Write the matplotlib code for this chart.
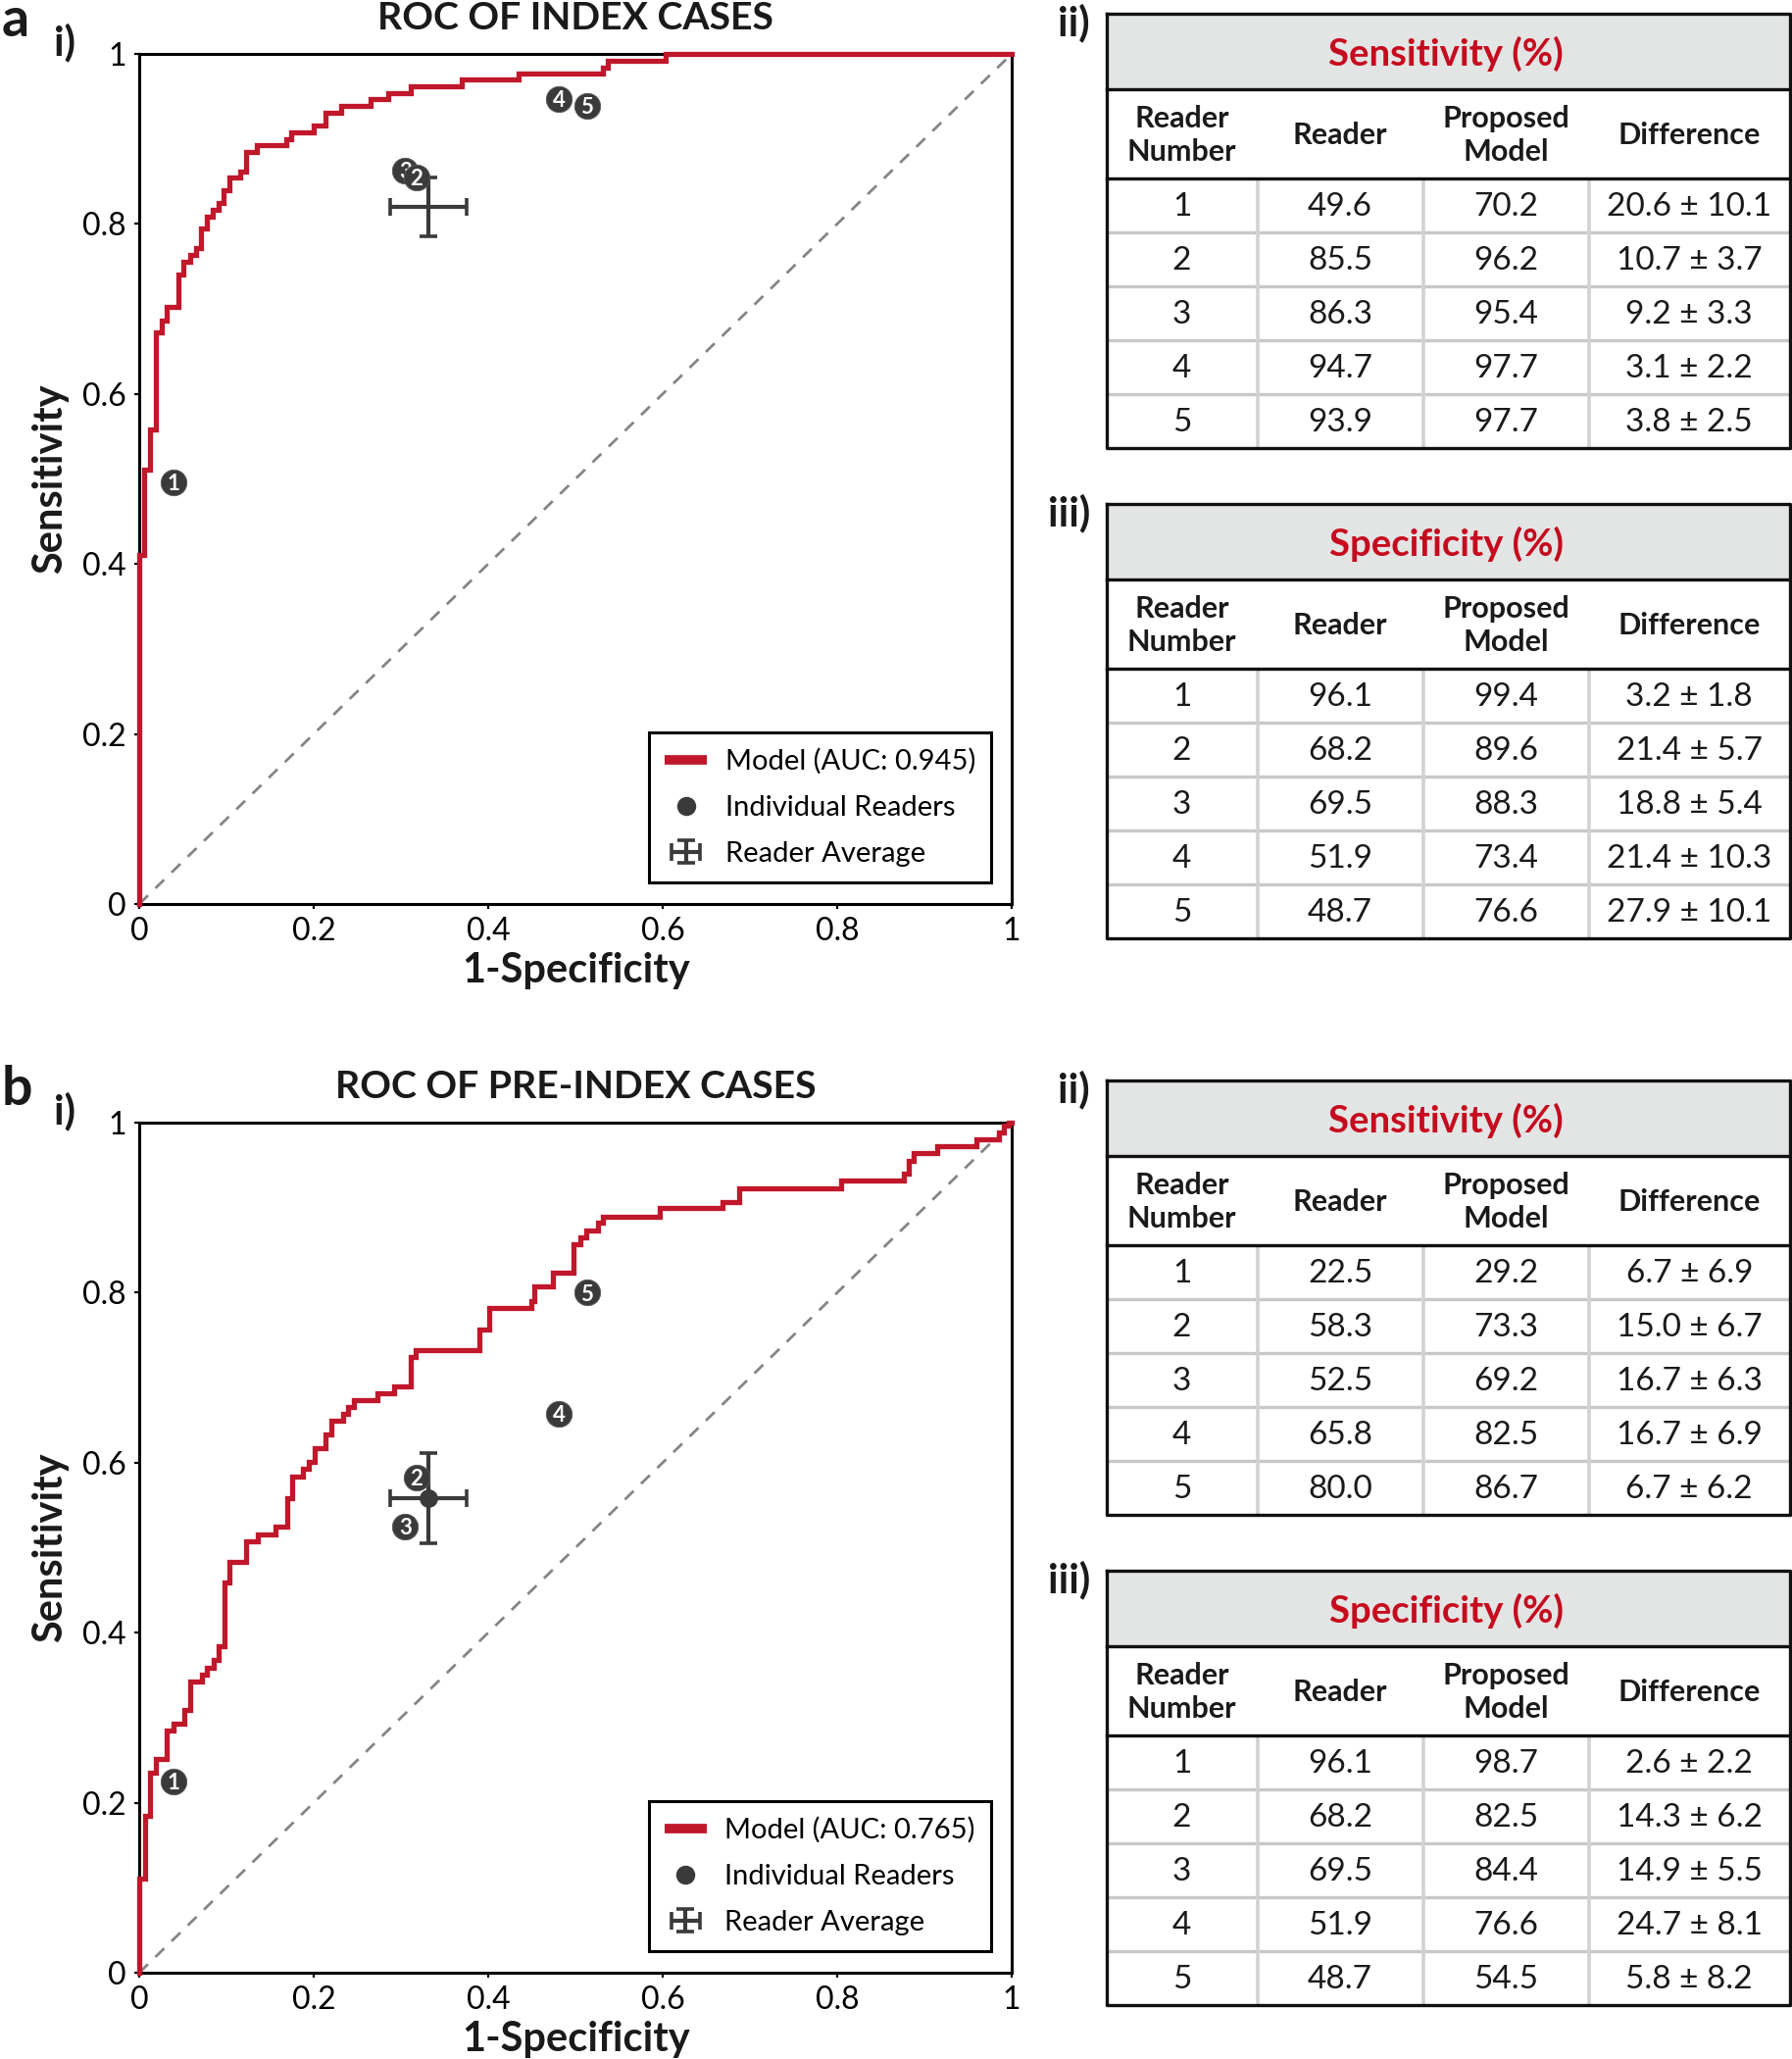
import matplotlib
matplotlib.use('Agg')
import matplotlib.pyplot as plt
from matplotlib.lines import Line2D
from matplotlib.patches import Rectangle
from matplotlib.container import ErrorbarContainer
from matplotlib.legend_handler import HandlerErrorbar

plt.rcParams['font.family'] = ['Lato', 'DejaVu Sans']

# ---------------- data ----------------
fpr_a = [0, 0, 0.006, 0.012, 0.0195, 0.0255, 0.032, 0.045, 0.051, 0.058, 0.065, 0.071,
         0.077, 0.084, 0.091, 0.097, 0.103, 0.116, 0.123, 0.135, 0.169, 0.174, 0.200,
         0.213, 0.232, 0.265, 0.285, 0.311, 0.370, 0.435, 0.532, 0.537, 0.603, 1.0]
tpr_a = [0, 0.411, 0.511, 0.558, 0.672, 0.686, 0.702, 0.741, 0.755, 0.764, 0.772, 0.795,
         0.809, 0.817, 0.825, 0.840, 0.855, 0.862, 0.885, 0.893, 0.900, 0.908, 0.916,
         0.931, 0.939, 0.947, 0.954, 0.962, 0.970, 0.977, 0.984, 0.992, 1.0, 1.0]
auc_a = 0.945

fpr_b = [0, 0, 0.007, 0.0127, 0.0195, 0.032, 0.039, 0.052, 0.0585, 0.072,
         0.078, 0.085, 0.0915, 0.098, 0.1035, 0.123, 0.1365, 0.156, 0.1695, 0.175,
         0.188, 0.1946, 0.201, 0.214, 0.220, 0.234, 0.2396, 0.2463, 0.2726, 0.292,
         0.311, 0.317, 0.3895, 0.401, 0.449, 0.4533, 0.474, 0.498, 0.506, 0.5126,
         0.526, 0.532, 0.597, 0.668, 0.6876, 0.804, 0.876, 0.882, 0.888, 0.9145,
         0.9595, 0.9857, 0.991, 0.997, 1.0]
tpr_b = [0, 0.111, 0.185, 0.235, 0.251, 0.285, 0.293, 0.309, 0.343, 0.351,
         0.359, 0.368, 0.384, 0.459, 0.4835, 0.508, 0.516, 0.5245, 0.558, 0.584,
         0.5925, 0.6006, 0.617, 0.633, 0.649, 0.658, 0.6655, 0.674, 0.682, 0.690,
         0.724, 0.732, 0.757, 0.782, 0.790, 0.8076, 0.824, 0.857, 0.865, 0.873,
         0.882, 0.889, 0.8998, 0.9067, 0.923, 0.9317, 0.940, 0.9554, 0.964, 0.9727,
         0.9807, 0.989, 0.996, 1.0, 1.0]
auc_b = 0.765

reader_ids = [1, 2, 3, 4, 5]

sens_reader_a = [49.6, 85.5, 86.3, 94.7, 93.9]
sens_model_a = [70.2, 96.2, 95.4, 97.7, 97.7]
sens_diff_a = ["20.6 ± 10.1", "10.7 ± 3.7", "9.2 ± 3.3", "3.1 ± 2.2", "3.8 ± 2.5"]
spec_reader_a = [96.1, 68.2, 69.5, 51.9, 48.7]
spec_model_a = [99.4, 89.6, 88.3, 73.4, 76.6]
spec_diff_a = ["3.2 ± 1.8", "21.4 ± 5.7", "18.8 ± 5.4", "21.4 ± 10.3", "27.9 ± 10.1"]

sens_reader_b = [22.5, 58.3, 52.5, 65.8, 80.0]
sens_model_b = [29.2, 73.3, 69.2, 82.5, 86.7]
sens_diff_b = ["6.7 ± 6.9", "15.0 ± 6.7", "16.7 ± 6.3", "16.7 ± 6.9", "6.7 ± 6.2"]
spec_reader_b = [96.1, 68.2, 69.5, 51.9, 48.7]
spec_model_b = [98.7, 82.5, 84.4, 76.6, 54.5]
spec_diff_b = ["2.6 ± 2.2", "14.3 ± 6.2", "14.9 ± 5.5", "24.7 ± 8.1", "5.8 ± 8.2"]

avg_xerr_a, avg_yerr_a = 0.044, 0.035
avg_xerr_b, avg_yerr_b = 0.044, 0.053

tick_vals = [0, 0.2, 0.4, 0.6, 0.8, 1.0]
tick_labels = ['0', '0.2', '0.4', '0.6', '0.8', '1']
table_headers = ["Reader\nNumber", "Reader", "Proposed\nModel", "Difference"]

# ---------------- style ----------------
W, H = 1828, 2100
RED = '#C0172B'
TRED = '#C60B1E'
DARK = '#3a3a3a'
TXT = '#1a1a1a'

fig = plt.figure(figsize=(W / 100, H / 100), dpi=100)


def fx(px):
    return px / W


def fy(py):
    return 1 - py / H


def draw_roc(top, title, fpr, tpr, auc, sens_r, spec_r, xerr, yerr, dot, panel):
    left, aw, ah = 142, 890, 867
    ax = fig.add_axes([fx(left), fy(top + ah), aw / W, ah / H])
    ax.set_xlim(0, 1)
    ax.set_ylim(0, 1)
    ax.plot([0, 1], [0, 1], ls=(0, (4.5, 3.8)), color='#858585', lw=2.0, zorder=1)
    ax.plot(fpr, tpr, drawstyle='steps-post', color=RED, lw=3.8, zorder=3,
            clip_on=False, solid_joinstyle='miter')
    xs = [1 - s / 100 for s in spec_r]
    ys = [s / 100 for s in sens_r]
    mx = sum(xs) / len(xs)
    my = sum(ys) / len(ys)
    eb = ax.errorbar([mx], [my], xerr=[xerr], yerr=[yerr], fmt='none', ecolor=DARK,
                     elinewidth=3.0, capsize=6.5, capthick=2.6, zorder=4)
    if dot:
        ax.plot([mx], [my], 'o', color=DARK, ms=12.5, zorder=4.5)
    n = len(xs)
    for i in range(n):
        z = 6 + (n - i) * 0.1
        ax.plot([xs[i]], [ys[i]], 'o', ms=19, color=DARK, mec='#5a5a5a', mew=0.6,
                zorder=z)
        ax.text(xs[i], ys[i], str(reader_ids[i]), color='white', fontsize=16,
                fontweight='bold', ha='center', va='center_baseline', zorder=z + 0.01)
    for s in ax.spines.values():
        s.set_linewidth(2.2)
    ax.set_xticks(tick_vals)
    ax.set_xticklabels(tick_labels)
    ax.set_yticks(tick_vals)
    ax.set_yticklabels(tick_labels)
    ax.tick_params(direction='out', length=3.6, width=1.6, labelsize=23, pad=6,
                   top=False, right=False, colors='black')
    h_line = Line2D([], [], color=RED, lw=7, solid_capstyle='butt')
    h_dot = Line2D([], [], ls='none', marker='o', ms=13, color=DARK)
    leg = ax.legend([h_line, h_dot, eb],
                    [f'Model (AUC: {auc:.3f})', 'Individual Readers', 'Reader Average'],
                    loc='lower right', bbox_to_anchor=(0.9764, 0.0254), borderaxespad=0,
                    fontsize=21, frameon=True, fancybox=False, edgecolor='black',
                    framealpha=1, handlelength=1.5, handletextpad=0.62, labelspacing=0.72,
                    borderpad=0.55,
                    handler_map={ErrorbarContainer: HandlerErrorbar(xerr_size=0.5,
                                                                    yerr_size=0.4)})
    leg.get_frame().set_linewidth(2.2)
    leg.set_zorder(10)
    # texts
    fig.text(fx(587), fy(top - 25), title, ha='center', va='baseline', fontsize=28.3,
             fontweight='bold', color=TXT)
    fig.text(fx(51), fy(top + ah / 2), 'Sensitivity', rotation=90, ha='center',
             va='center', fontsize=30, fontweight='bold', color=TXT)
    fig.text(fx(588), fy(top + 947), '1-Specificity', ha='center', va='baseline',
             fontsize=30, fontweight='bold', color=TXT)
    fig.text(fx(2), fy(top - 18), panel, ha='left', va='baseline', fontsize=40,
             fontweight='bold', color=TXT)
    fig.text(fx(55), fy(top + 1), 'i)', ha='left', va='baseline', fontsize=30,
             fontweight='bold', color=TXT)
    return ax


def draw_table(top, label, title, reader_vals, model_vals, diffs):
    left, right = 1128.6, 1826.0
    tw = right - left
    title_h, header_h, row_h = 77, 90.7, 55
    nrows = len(reader_vals)
    th = title_h + header_h + row_h * nrows
    ax = fig.add_axes([fx(left), fy(top + th), tw / W, th / H])
    ax.set_xlim(0, tw)
    ax.set_ylim(th, 0)
    ax.axis('off')
    col_x = [0, 154, 323, 492, tw]
    ax.add_patch(Rectangle((0, 0), tw, title_h, facecolor='#e3e4e4', edgecolor='none',
                           zorder=0))
    y0 = title_h + header_h
    # gray grid
    for r in range(1, nrows):
        yy = y0 + r * row_h
        ax.plot([0, tw], [yy, yy], color='#c8c8c8', lw=2.4, zorder=1, clip_on=False,
                solid_capstyle='butt')
    for c in col_x[1:-1]:
        ax.plot([c, c], [y0, th], color='#d2d2d2', lw=2.6, zorder=1, clip_on=False,
                solid_capstyle='butt')
    # black lines
    ax.plot([0, tw, tw, 0, 0], [0, 0, th, th, 0], color='#111111', lw=2.4, zorder=3,
            clip_on=False)
    for yy in (title_h, y0):
        ax.plot([0, tw], [yy, yy], color='#111111', lw=2.4, zorder=3, clip_on=False)
    ax.text(tw / 2 - 2, title_h / 2 + 2, title, ha='center', va='center',
            fontsize=27.5, fontweight='bold', color=TRED)
    for j, hd in enumerate(table_headers):
        cx = (col_x[j] + col_x[j + 1]) / 2
        ax.text(cx, title_h + header_h / 2 + 2, hd, ha='center', va='center',
                fontsize=22, fontweight='bold', color=TXT, linespacing=1.25)
    for r in range(nrows):
        cy = y0 + (r + 0.5) * row_h + 2
        vals = [str(reader_ids[r]), f'{reader_vals[r]:.1f}', f'{model_vals[r]:.1f}',
                diffs[r]]
        for j, v in enumerate(vals):
            cx = (col_x[j] + col_x[j + 1]) / 2
            ax.text(cx, cy, v, ha='center', va='center', fontsize=24, color=TXT)
    fig.text(fx(1112), fy(top + 22), label, ha='right', va='baseline',
             fontsize=30, fontweight='bold', color=TXT)
    return ax


# panel a
draw_roc(55, 'ROC OF INDEX CASES', fpr_a, tpr_a, auc_a, sens_reader_a, spec_reader_a,
         avg_xerr_a, avg_yerr_a, False, 'a')
draw_table(14, 'ii)', 'Sensitivity (%)', sens_reader_a, sens_model_a, sens_diff_a)
draw_table(514, 'iii)', 'Specificity (%)', spec_reader_a, spec_model_a, spec_diff_a)

# panel b
draw_roc(1145, 'ROC OF PRE-INDEX CASES', fpr_b, tpr_b, auc_b, sens_reader_b, spec_reader_b,
         avg_xerr_b, avg_yerr_b, True, 'b')
draw_table(1102, 'ii)', 'Sensitivity (%)', sens_reader_b, sens_model_b, sens_diff_b)
draw_table(1602, 'iii)', 'Specificity (%)', spec_reader_b, spec_model_b, spec_diff_b)

fig.savefig('out.png', dpi=100)
